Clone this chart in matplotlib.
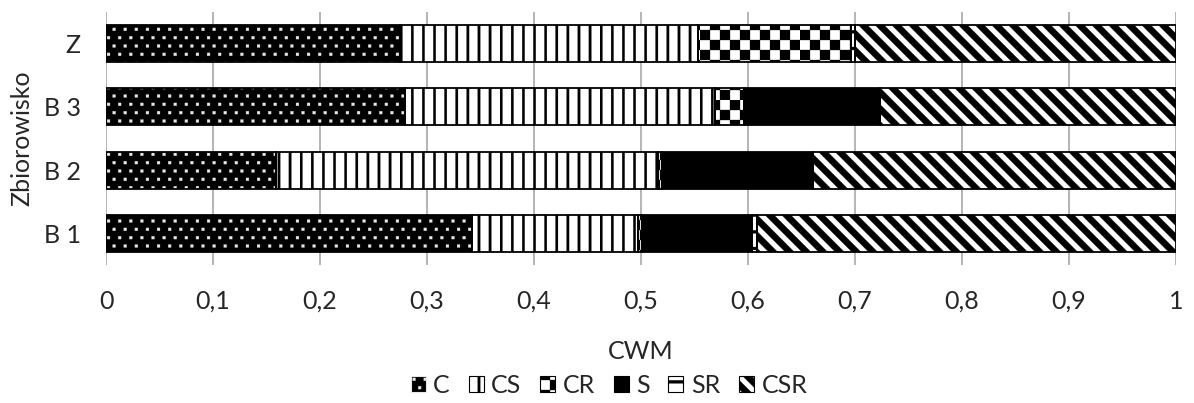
#!/usr/bin/env python3
"""
CWM of CSR strategies per site (stacked horizontal bars, black & white patterns).
Output: out.png
"""
import warnings
import numpy as np
import matplotlib
matplotlib.use("Agg")
import matplotlib.pyplot as plt
import matplotlib.hatch as mhatch
from matplotlib.path import Path
from matplotlib.patches import Patch

warnings.filterwarnings("ignore")

# ── Data ─────────────────────────────────────────────────
sites = ["B 1", "B 2", "B 3", "Z"]            # bottom -> top
C_vals   = [0.342, 0.159, 0.279, 0.275]
CS_vals  = [0.155, 0.357, 0.290, 0.278]
CR_vals  = [0.004, 0.004, 0.027, 0.143]
S_vals   = [0.103, 0.141, 0.127, 0.000]
SR_vals  = [0.004, 0.000, 0.000, 0.004]
CSR_vals = [0.392, 0.339, 0.277, 0.300]
groups = ["C", "CS", "CR", "S", "SR", "CSR"]
xticks = [0, 0.1, 0.2, 0.3, 0.4, 0.5, 0.6, 0.7, 0.8, 0.9, 1.0]
xtick_labels = ["0", "0,1", "0,2", "0,3", "0,4", "0,5", "0,6", "0,7", "0,8", "0,9", "1"]


# ── Custom filled hatches (Excel-like patterns) ───────────
class PolyHatch(mhatch.HatchPatternBase):
    key = None

    def __init__(self, hatch, density):
        self.polys = self.make() if (hatch and self.key in hatch) else []
        self.num_vertices = 5 * len(self.polys)

    def make(self):
        return []

    def set_vertices_and_codes(self, vertices, codes):
        for i, p in enumerate(self.polys):
            vertices[i * 5:i * 5 + 4] = p
            vertices[i * 5 + 4] = p[0]
            codes[i * 5] = Path.MOVETO
            codes[i * 5 + 1:i * 5 + 4] = Path.LINETO
            codes[i * 5 + 4] = Path.CLOSEPOLY


def rect(x0, y0, w, h):
    return [(x0, y0), (x0 + w, y0), (x0 + w, y0 + h), (x0, y0 + h)]


class VStripes(PolyHatch):
    key = "v"
    def make(self):
        n, w = 9, 0.024
        return [rect(i / n, -0.1, w, 1.2) for i in range(n)]


class HStripes(PolyHatch):
    key = "h"
    def make(self):
        n, w = 6, 0.03
        return [rect(-0.1, i / n, 1.2, w) for i in range(n)]


class Checker(PolyHatch):
    key = "k"
    def make(self):
        m = 10
        s = 1.0 / m
        return [rect(i * s, j * s, s, s) for i in range(m) for j in range(m)
                if (i + j) % 2 == 0]


class Diag(PolyHatch):
    key = "d"
    def make(self):
        k, t = 6, 0.09
        out = []
        for i in range(-k, 2 * k + 1):
            c = i / k
            out.append([(-1, c + 1), (2, c - 2), (2, c - 2 + t), (-1, c + 1 + t)])
        return out


class Dots(PolyHatch):
    key = "p"
    def make(self):
        nc, nr, r = 9, 12, 0.014
        out = []
        for j in range(nr):
            off = 0.5 / nc if j % 2 else 0.0
            for i in range(nc):
                x, y = i / nc + off + 0.03, j / nr + 0.04
                out.append(rect(x - r, y - r, 2 * r, 2 * r))
        return out


mhatch._hatch_types.extend([VStripes, HStripes, Checker, Diag, Dots])
plt.rcParams["hatch.linewidth"] = 0.2

STYLE = {
    "C":   dict(face="black", hcol="#e8e8e8", hatch="p"),
    "CS":  dict(face="white", hcol="black", hatch="v"),
    "CR":  dict(face="white", hcol="black", hatch="k"),
    "S":   dict(face="black", hcol="black", hatch=None),
    "SR":  dict(face="white", hcol="black", hatch="h"),
    "CSR": dict(face="white", hcol="black", hatch="d"),
}
TXT = "#262626"
FS = 18
plt.rcParams["font.family"] = ["Lato", "DejaVu Sans"]

# ── Layout ────────────────────────────────────────────────
fig = plt.figure(figsize=(11.94, 4.03), dpi=100)
ax = fig.add_axes([106 / 1194, 138 / 403, 1070 / 1194, 253 / 403])

series = [C_vals, CS_vals, CR_vals, S_vals, SR_vals, CSR_vals]
y = np.arange(len(sites))
left = np.zeros(len(sites))
bar_h = 0.585
for name, vals in zip(groups, series):
    st = STYLE[name]
    vals = np.array(vals)
    ax.barh(y, vals, height=bar_h, left=left, color=st["face"],
            edgecolor=st["hcol"], hatch=st["hatch"], linewidth=0, zorder=2)
    ax.barh(y, vals, height=bar_h, left=left, fill=False,
            edgecolor="black", linewidth=1.3, zorder=3)
    left += vals

ax.set_xlim(0, 1)
ax.set_ylim(-0.5, len(sites) - 0.5)
ax.set_xticks(xticks)
ax.set_xticklabels(xtick_labels)
ax.set_yticks(y)
ax.set_yticklabels(sites)
ax.grid(axis="x", color="#a0a0a0", linewidth=1.1, zorder=0)
ax.set_axisbelow(True)
for sp in ax.spines.values():
    sp.set_visible(False)
ax.tick_params(axis="both", length=0, labelsize=FS, colors=TXT)
ax.tick_params(axis="x", pad=18)
ax.tick_params(axis="y", pad=18)

ax.set_xlabel("CWM", fontsize=FS, color=TXT)
ax.xaxis.set_label_coords(0.5, -0.295)
ax.set_ylabel("Zbiorowisko", fontsize=FS, color=TXT, va="center")
ax.yaxis.set_label_coords(-0.0785, 0.5)

handles = [Patch(facecolor=STYLE[g]["face"], edgecolor=STYLE[g]["hcol"],
                 hatch=STYLE[g]["hatch"], linewidth=0.8) for g in groups]
leg = fig.legend(handles, groups, loc="center", bbox_to_anchor=(0.51, 0.043),
                 ncol=6, frameon=False, fontsize=FS, handlelength=0.6,
                 handleheight=0.6, handletextpad=0.3, columnspacing=0.75)
for t in leg.get_texts():
    t.set_color(TXT)

fig.savefig("out.png", dpi=100)
plt.close(fig)
